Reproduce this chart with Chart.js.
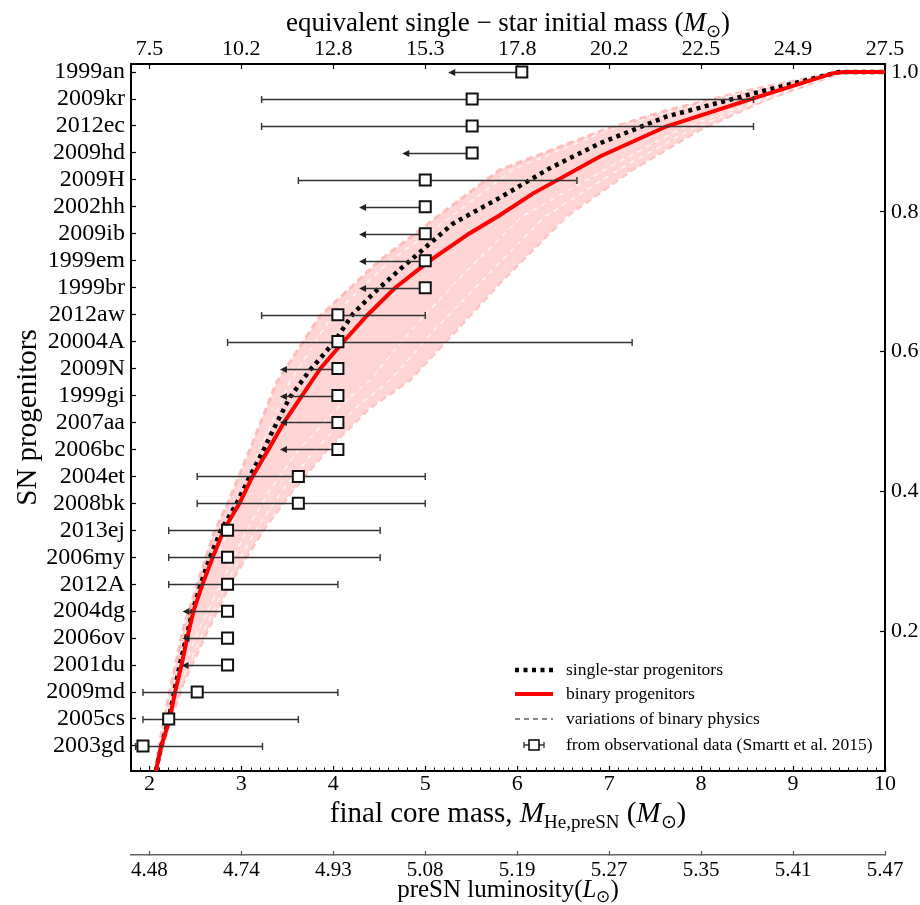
<!DOCTYPE html>
<html>
<head>
<meta charset="utf-8">
<script src="https://cdn.jsdelivr.net/npm/chart.js@4.4.0/dist/chart.umd.min.js"></script>
<style>
  html, body { margin: 0; padding: 0; background: #fff; }
  #wrap { width: 920px; height: 905px; }
</style>
</head>
<body>
<div id="wrap"><canvas id="c" width="920" height="905"></canvas></div>
<script>
// observed SN progenitors (Smartt et al. 2015), top to bottom
const snNames = ["1999an", "2009kr", "2012ec", "2009hd", "2009H", "2002hh", "2009ib", "1999em", "1999br",
  "2012aw", "20004A", "2009N", "1999gi", "2007aa", "2006bc", "2004et", "2008bk", "2013ej", "2006my",
  "2012A", "2004dg", "2006ov", "2001du", "2009md", "2005cs", "2003gd"];
const snMass = [6.05, 5.51, 5.51, 5.51, 5.00, 5.00, 5.00, 5.00, 5.00, 4.05, 4.05, 4.05, 4.05, 4.05, 4.05,
  3.62, 3.62, 2.85, 2.85, 2.85, 2.85, 2.85, 2.85, 2.52, 2.21, 1.93];
const snLow = [5.25, 3.22, 3.22, 4.75, 3.62, 4.28, 4.28, 4.28, 4.28, 3.22, 2.85, 3.42, 3.42, 3.42, 3.42,
  2.52, 2.52, 2.21, 2.21, 2.21, 2.36, 2.36, 2.35, 1.93, 1.93, 1.85];
// null = upper limit only (arrow)
const snHigh = [null, 8.57, 8.57, null, 6.65, null, null, null, null, 5.00, 7.25, null, null, null, null,
  5.00, 5.00, 4.51, 4.51, 4.05, null, null, null, 4.05, 3.62, 3.23];

// axes
const massTicks = [2, 3, 4, 5, 6, 7, 8, 9, 10];
const initialMassLabels = ["7.5", "10.2", "12.8", "15.3", "17.8", "20.2", "22.5", "24.9", "27.5"];
const lumLabels = ["4.48", "4.74", "4.93", "5.08", "5.19", "5.27", "5.35", "5.41", "5.47"];
const fracTicks = [0.2, 0.4, 0.6, 0.8, 1.0];

// single-star progenitors
const singleMass = [2.07, 2.13, 2.21, 2.27, 2.33, 2.40, 2.47, 2.56, 2.66, 2.78, 2.95, 3.09, 3.24, 3.38, 3.53,
  3.75, 4.00, 4.22, 4.45, 4.72, 5.01, 5.30, 5.81, 6.35, 6.90, 7.62, 8.56, 9.50, 10.0];
const singleFrac = [0, 0.036, 0.074, 0.113, 0.152, 0.19, 0.229, 0.268, 0.306, 0.345, 0.383, 0.421, 0.459, 0.497,
  0.535, 0.574, 0.612, 0.655, 0.685, 0.717, 0.75, 0.783, 0.82, 0.862, 0.898, 0.936, 0.969, 1.0, 1.0];

// binary progenitors
const binaryMass = [2.07, 2.13, 2.22, 2.28, 2.35, 2.41, 2.48, 2.58, 2.69, 2.81, 2.98, 3.12, 3.29, 3.46, 3.66,
  3.86, 4.11, 4.37, 4.67, 5.05, 5.48, 5.81, 6.17, 6.90, 7.62, 8.56, 9.43, 9.55, 10.0];
const binaryFrac = [0, 0.036, 0.074, 0.113, 0.152, 0.19, 0.229, 0.268, 0.306, 0.345, 0.383, 0.421, 0.459, 0.498,
  0.537, 0.576, 0.614, 0.652, 0.691, 0.73, 0.769, 0.795, 0.826, 0.879, 0.922, 0.962, 0.998, 1.0, 1.0];

// variations of binary physics
const varUpperMass = [2.07, 2.11, 2.20, 2.36, 2.55, 2.70, 2.88, 3.09, 3.38, 3.85, 4.50, 5.10, 5.81, 6.90, 7.62, 8.56, 9.50, 10.0];
const varUpperFrac = [0, 0.04, 0.10, 0.20, 0.28, 0.34, 0.392, 0.459, 0.555, 0.65, 0.73, 0.79, 0.86, 0.915, 0.945, 0.975, 1.0, 1.0];
const varAMass = [2.07, 2.12, 2.22, 2.40, 2.62, 2.85, 3.02, 3.20, 3.52, 3.98, 4.62, 5.25, 5.95, 6.95, 7.70, 8.60, 9.50, 10.0];
const varAFrac = [0, 0.04, 0.10, 0.20, 0.28, 0.34, 0.392, 0.459, 0.555, 0.65, 0.73, 0.79, 0.86, 0.915, 0.945, 0.975, 1.0, 1.0];
const varBMass = [2.07, 2.17, 2.30, 2.52, 2.78, 3.06, 3.30, 3.62, 4.05, 4.40, 4.85, 5.35, 6.05, 6.95, 7.75, 8.62, 9.50, 10.0];
const varBFrac = [0, 0.06, 0.126, 0.197, 0.269, 0.345, 0.40, 0.459, 0.52, 0.559, 0.631, 0.702, 0.793, 0.86, 0.917, 0.96, 0.998, 1.0];
const varCMass = [2.07, 2.19, 2.34, 2.58, 2.84, 3.16, 3.44, 3.80, 4.25, 4.62, 5.10, 5.62, 6.30, 7.10, 7.88, 8.66, 9.50, 10.0];
const varCFrac = [0, 0.06, 0.126, 0.197, 0.269, 0.345, 0.40, 0.459, 0.52, 0.559, 0.631, 0.702, 0.793, 0.86, 0.917, 0.96, 0.998, 1.0];
const varLowerMass = [2.07, 2.20, 2.37, 2.62, 2.88, 3.24, 3.55, 3.93, 4.40, 4.83, 5.34, 5.84, 6.53, 7.25, 7.98, 8.70, 9.50, 10.0];
const varLowerFrac = [0, 0.06, 0.126, 0.197, 0.269, 0.345, 0.40, 0.459, 0.52, 0.559, 0.631, 0.702, 0.793, 0.86, 0.917, 0.96, 0.998, 1.0];

const SERIF = "'Liberation Serif', 'Times New Roman', Times, serif";
const OBS = 7; // index of the observed-progenitor dataset

const pts = (xs, ys) => xs.map((x, i) => ({ x: x, y: ys[i] }));
const curve = (label, xs, ys, extra) => Object.assign({
  type: 'line', label: label, data: pts(xs, ys), xAxisID: 'x', yAxisID: 'yR',
  pointRadius: 0, tension: 0, fill: false, borderCapStyle: 'butt'
}, extra);

// text with italics / subscripts
function richText(ctx, parts, cx, cy, rot) {
  ctx.save();
  ctx.translate(cx, cy);
  if (rot) ctx.rotate(rot);
  ctx.fillStyle = '#000';
  ctx.textBaseline = 'alphabetic';
  let w = 0;
  parts.forEach(p => { ctx.font = p.f; p.w = ctx.measureText(p.t).width; w += p.w; });
  let x = -w / 2;
  parts.forEach(p => { ctx.font = p.f; ctx.fillText(p.t, x, p.dy || 0); x += p.w; });
  ctx.restore();
}

const errorBars = {
  id: 'errorBars',
  beforeDatasetDraw(chart, args) {
    if (args.index !== OBS) return;
    const xs = chart.scales.x, ys = chart.scales.yL, ctx = chart.ctx;
    ctx.save();
    ctx.strokeStyle = '#333';
    ctx.fillStyle = '#222';
    ctx.lineWidth = 1.4;
    snNames.forEach((n, i) => {
      const py = Math.round(ys.getPixelForValue(i)) + 0.5;
      const pm = xs.getPixelForValue(snMass[i]);
      const pl = xs.getPixelForValue(snLow[i]);
      ctx.beginPath();
      if (snHigh[i] === null) {
        ctx.moveTo(pm, py); ctx.lineTo(pl + 5, py); ctx.stroke();
        ctx.beginPath();
        ctx.moveTo(pl, py); ctx.lineTo(pl + 7, py - 3.5); ctx.lineTo(pl + 7, py + 3.5);
        ctx.closePath(); ctx.fill();
      } else {
        const ph = xs.getPixelForValue(snHigh[i]);
        ctx.moveTo(pl, py); ctx.lineTo(ph, py);
        ctx.moveTo(pl, py - 3.5); ctx.lineTo(pl, py + 3.5);
        ctx.moveTo(ph, py - 3.5); ctx.lineTo(ph, py + 3.5);
        ctx.stroke();
      }
    });
    ctx.restore();
  }
};

const decorations = {
  id: 'decorations',
  afterDraw(chart) {
    const ctx = chart.ctx, ca = chart.chartArea, xs = chart.scales.x;
    // minor ticks on the bottom axis
    ctx.save();
    ctx.strokeStyle = '#000';
    ctx.lineWidth = 1;
    for (let k = 19; k < 100; k++) {
      if (k % 10 === 0) continue;
      const px = Math.round(xs.getPixelForValue(k / 10)) + 0.5;
      ctx.beginPath(); ctx.moveTo(px, ca.bottom - 1); ctx.lineTo(px, ca.bottom - 3.5); ctx.stroke();
    }
    ctx.restore();

    const big = '29px ' + SERIF, bigI = 'italic 29px ' + SERIF, sub = '19px ' + SERIF;
    richText(ctx, [
      { t: 'final core mass, ', f: big }, { t: 'M', f: bigI }, { t: 'He,preSN', f: sub, dy: 6 },
      { t: ' (', f: big }, { t: 'M', f: bigI }, { t: '\u2299', f: sub, dy: 6 }, { t: ')', f: big }
    ], (ca.left + ca.right) / 2, ca.bottom + 51);

    const t2 = '27px ' + SERIF, t2I = 'italic 27px ' + SERIF, s2 = '18px ' + SERIF;
    richText(ctx, [
      { t: 'equivalent single \u2212 star initial mass (', f: t2 }, { t: 'M', f: t2I },
      { t: '\u2299', f: s2, dy: 6 }, { t: ')', f: t2 }
    ], (ca.left + ca.right) / 2, 31);

    const t3 = '25px ' + SERIF, t3I = 'italic 25px ' + SERIF, s3 = '17px ' + SERIF;
    richText(ctx, [
      { t: 'preSN luminosity(', f: t3 }, { t: 'L', f: t3I }, { t: '\u2299', f: s3, dy: 5 }, { t: ')', f: t3 }
    ], (ca.left + ca.right) / 2, 897);

    richText(ctx, [{ t: 'SN progenitors', f: '29px ' + SERIF }], 36, (ca.top + ca.bottom) / 2, -Math.PI / 2);

    // legend
    const lx = ca.right - 370, tx = ca.right - 319;
    const rows = [ca.bottom - 101, ca.bottom - 77, ca.bottom - 52, ca.bottom - 26];
    ctx.save();
    ctx.lineCap = 'butt';
    ctx.strokeStyle = '#000'; ctx.lineWidth = 4.5; ctx.setLineDash([4, 4.5]);
    ctx.beginPath(); ctx.moveTo(lx, rows[0]); ctx.lineTo(lx + 38, rows[0]); ctx.stroke();
    ctx.setLineDash([]);
    ctx.strokeStyle = '#ff0000'; ctx.lineWidth = 4;
    ctx.beginPath(); ctx.moveTo(lx, rows[1]); ctx.lineTo(lx + 38, rows[1]); ctx.stroke();
    ctx.strokeStyle = '#888'; ctx.lineWidth = 2; ctx.setLineDash([5, 4]);
    ctx.beginPath(); ctx.moveTo(lx, rows[2]); ctx.lineTo(lx + 38, rows[2]); ctx.stroke();
    ctx.setLineDash([]);
    const cx = lx + 19, cy = rows[3];
    ctx.strokeStyle = '#333'; ctx.lineWidth = 1.3;
    ctx.beginPath();
    ctx.moveTo(cx - 10, cy); ctx.lineTo(cx + 10, cy);
    ctx.moveTo(cx - 10, cy - 3); ctx.lineTo(cx - 10, cy + 3);
    ctx.moveTo(cx + 10, cy - 3); ctx.lineTo(cx + 10, cy + 3);
    ctx.stroke();
    ctx.fillStyle = '#fff'; ctx.strokeStyle = '#111'; ctx.lineWidth = 1.6;
    ctx.fillRect(cx - 5, cy - 5, 10, 10); ctx.strokeRect(cx - 5, cy - 5, 10, 10);
    ctx.fillStyle = '#000';
    ctx.font = '17.5px ' + SERIF;
    ctx.textBaseline = 'middle';
    ['single-star progenitors', 'binary progenitors', 'variations of binary physics',
     'from observational data (Smartt et al. 2015)'].forEach((t, i) => ctx.fillText(t, tx, rows[i]));
    ctx.restore();
  }
};

const tickFont = (s) => ({ family: SERIF, size: s });
const noGrid = (tl, color) => ({ drawOnChartArea: false, tickLength: tl, tickColor: color || '#000', tickWidth: 1.2 });

new Chart(document.getElementById('c'), {
  type: 'line',
  data: {
    datasets: [
      curve('variations upper', varUpperMass, varUpperFrac, {
        borderColor: 'rgba(255,180,180,0.85)', borderWidth: 3, borderDash: [7, 4],
        fill: '+1', backgroundColor: 'rgba(255,208,208,0.9)', order: 6 }),
      curve('variations lower', varLowerMass, varLowerFrac, {
        borderColor: 'rgba(255,180,180,0.85)', borderWidth: 3, borderDash: [7, 4], order: 6 }),
      curve('variations a', varAMass, varAFrac, {
        borderColor: 'rgba(255,255,255,0.8)', borderWidth: 1.5, borderDash: [5, 5], order: 5 }),
      curve('variations b', varBMass, varBFrac, {
        borderColor: 'rgba(255,255,255,0.8)', borderWidth: 1.5, borderDash: [5, 5], order: 5 }),
      curve('variations c', varCMass, varCFrac, {
        borderColor: 'rgba(255,255,255,0.8)', borderWidth: 1.5, borderDash: [5, 5], order: 5 }),
      curve('single-star progenitors', singleMass, singleFrac, {
        borderColor: '#000', borderWidth: 4.5, borderDash: [4, 4.5], order: 2 }),
      curve('binary progenitors', binaryMass, binaryFrac, {
        borderColor: '#ff0000', borderWidth: 4, order: 1 }),
      {
        type: 'line', label: 'from observational data (Smartt et al. 2015)',
        data: snMass.map((m, i) => ({ x: m, y: i })), xAxisID: 'x', yAxisID: 'yL',
        showLine: false, pointStyle: 'rect', pointRadius: 7.8,
        pointBackgroundColor: '#fff', pointBorderColor: '#111', pointBorderWidth: 2, order: 0
      }
    ]
  },
  options: {
    responsive: false,
    maintainAspectRatio: false,
    animation: false,
    events: [],
    layout: { padding: 0 },
    plugins: { legend: { display: false }, tooltip: { enabled: false } },
    scales: {
      x: {
        type: 'linear', position: 'bottom', min: 1.8, max: 10, weight: 0,
        afterBuildTicks: s => { s.ticks = massTicks.map(v => ({ value: v })); },
        afterFit: s => { s.height = 84; },
        ticks: { font: tickFont(22), color: '#000', padding: 5, autoSkip: false, maxRotation: 0,
                 callback: v => String(v) },
        grid: noGrid(-5),
        border: { display: true, color: '#000', width: 2 }
      },
      xLum: {
        type: 'linear', position: 'bottom', min: 1.8, max: 10, weight: 1,
        afterBuildTicks: s => { s.ticks = massTicks.map(v => ({ value: v })); },
        afterFit: s => { s.height = 50; },
        ticks: { font: tickFont(21), color: '#000', padding: 7, autoSkip: false, maxRotation: 0,
                 callback: (v, i) => lumLabels[i] },
        grid: noGrid(-4, '#555'),
        border: { display: true, color: '#666', width: 1.5 }
      },
      xTop: {
        type: 'linear', position: 'top', min: 1.8, max: 10,
        afterBuildTicks: s => { s.ticks = massTicks.map(v => ({ value: v })); },
        afterFit: s => { s.height = 64; },
        ticks: { font: tickFont(22), color: '#000', padding: 7, autoSkip: false, maxRotation: 0,
                 callback: (v, i) => initialMassLabels[i] },
        grid: noGrid(-5),
        border: { display: true, color: '#000', width: 2 }
      },
      yL: {
        type: 'linear', position: 'left', reverse: true, min: -0.3, max: 25.93,
        afterBuildTicks: s => { s.ticks = snNames.map((n, i) => ({ value: i })); },
        afterFit: s => { s.width = 131; },
        ticks: { font: tickFont(24), color: '#000', padding: 11, autoSkip: false,
                 callback: v => snNames[v] },
        grid: noGrid(-5),
        border: { display: true, color: '#000', width: 2 }
      },
      yR: {
        type: 'linear', position: 'right', min: 0, max: 1.0114,
        afterBuildTicks: s => { s.ticks = fracTicks.map(v => ({ value: v })); },
        afterFit: s => { s.width = 35; },
        ticks: { font: tickFont(22), color: '#000', padding: 11, autoSkip: false,
                 callback: v => v.toFixed(1) },
        grid: noGrid(-5),
        border: { display: true, color: '#000', width: 2 }
      }
    }
  },
  plugins: [errorBars, decorations]
});
</script>
</body>
</html>
